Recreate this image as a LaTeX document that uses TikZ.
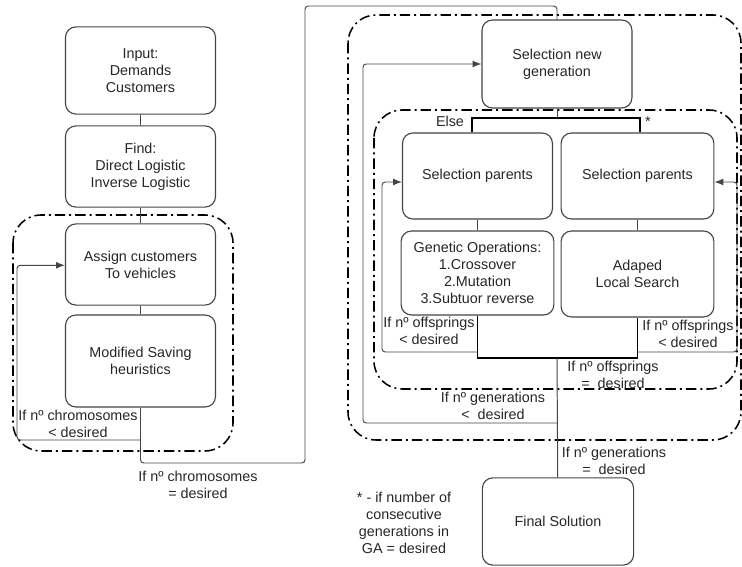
\documentclass[tikz,border=0pt]{standalone}
\usepackage{fontspec}
\setmainfont{Liberation Sans}
\usepackage{xcolor}
\usepackage{tikz}
\usetikzlibrary{arrows.meta, positioning}

\definecolor{boxgray}{HTML}{444444}
\definecolor{linegray}{HTML}{444444}
\definecolor{txt}{HTML}{262626}

\begin{document}
\begin{tikzpicture}[
  x=0.25mm, y=-0.25mm,
  font=\fontsize{10.2}{12.2}\selectfont, text=txt,
  box/.style={draw=boxgray, line width=0.8pt, rounded corners=2.6mm, minimum width=37.5mm, minimum height=21.5mm, align=center},
  group/.style={draw=black, line width=1.1pt, rounded corners=7mm, dash pattern=on 2.6mm off 1mm on 0.5mm off 1mm},
  line/.style={draw=linegray, line width=0.7pt, rounded corners=0.8mm},
  bracket/.style={draw=black, line width=1.2pt},
  arrow/.style={line, -{Latex[length=2.2mm, width=1.7mm]}},
  lbl/.style={align=center, inner sep=0pt}
]
\useasboundingbox (0,0) rectangle (742,567);

% Groups
\draw[group] (13,215) rectangle (233,451);
\draw[group] (348,15) rectangle (741,440);
\draw[group] (374,110) rectangle (737,389);

% Nodes
\node[box, minimum height=21.8mm] (input) at (140.5,70.5) {Input:\\Demands\\Customers};
\node[box, minimum height=20.3mm] (find) at (140.5,166.5) {Find:\\Direct Logistic\\Inverse Logistic};
\node[box, minimum height=20.3mm] (assign) at (140.5,264.5) {Assign customers\\To vehicles};
\node[box, minimum height=23mm] (saving) at (140.5,361) {Modified Saving\\heuristics};

\node[box, minimum height=22mm] (selgen) at (557,64) {Selection new\\generation};
\node[box, minimum height=21.5mm] (selL) at (477.5,176) {Selection parents};
\node[box, minimum height=21.5mm, minimum width=38.2mm] (selR) at (637.5,176) {Selection parents};
\node[box, minimum height=21mm, minimum width=38.2mm] (genop) at (477.5,273) {Genetic Operations:\\1.Crossover\\2.Mutation\\3.Subtuor reverse};
\node[box, minimum height=21.5mm, minimum width=38.2mm] (adaped) at (637.5,274) {Adaped\\Local Search};
\node[box, minimum height=21.8mm, minimum width=37.8mm] (final) at (558,521.5) {Final Solution};

% Coordinates
\coordinate (exit1) at (140.5,440);
\coordinate (split) at (557,118);
\coordinate (merge) at (557,358);
\coordinate (exit2) at (557,423);
\coordinate (offL) at (477.5,352);
\coordinate (offR) at (637.5,352);

% Pointers
\draw[line] (input) -- (find);
\draw[line] (find) -- (assign);
\draw[line] (assign) -- (saving);
\draw[line] (saving) -- (exit1);
\draw[arrow] (exit1) -- (17,440) |- ([yshift=-0.2mm]assign.west);
\draw[line] (exit1) |- (305,463) -- (305,6) -| (selgen.north);

\draw[line] (selgen) -- (split);
\draw[bracket] ([xshift=-1.4mm]selL.north) |- (split) -| ([xshift=0.6mm]selR.north);
\draw[line] (selL) -- (genop);
\draw[line] (selR) -- (adaped);
\draw[bracket] (genop.south) |- (merge) -| (adaped.south);
\draw[line] (merge) -- (final);
\draw[arrow] (offL) -- (382,352) |- ([yshift=-1.5mm]selL.west);
\draw[arrow] (offR) -- (737,352) |- ([yshift=-1.5mm]selR.east);
\draw[arrow] (exit2) -- (363,423) |- (selgen.west);

% Labels
\node[lbl] (l1) at (78,424) {If nº chromosomes\\< desired};
\node[lbl] (l2) at (198,485) {If nº chromosomes\\= desired};
\node[lbl] (l3) at (450,121) {Else};
\node[lbl] (l4) at (648,122) {*};
\node[lbl] (l5) at (429,331) {If nº offsprings\\< desired};
\node[lbl] (l6) at (688,334) {If nº offsprings\\< desired};
\node[lbl] (l7) at (613,375) {If nº offsprings\\=\ \ desired};
\node[lbl] (l8) at (493,406) {If nº generations\\<\ \ desired};
\node[lbl] (l9) at (614,461) {If nº generations\\=\ \ desired};
\node[lbl] (note) at (404,523) {* - if number of\\consecutive\\generations in\\GA = desired};
\end{tikzpicture}
\end{document}
